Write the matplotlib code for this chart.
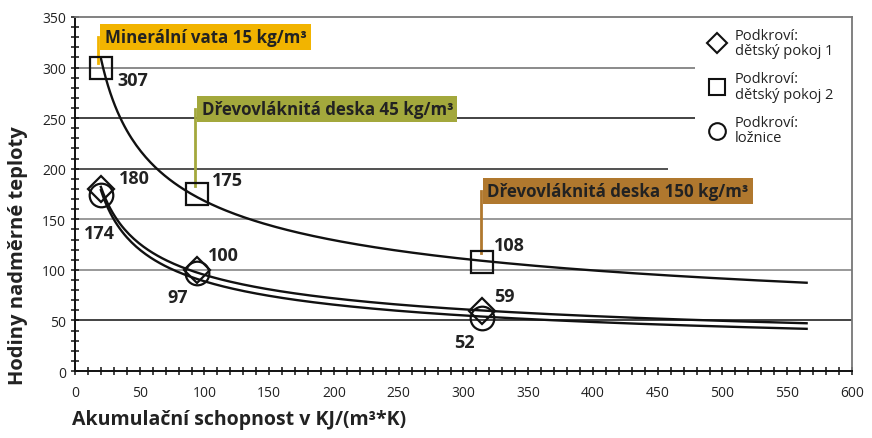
import numpy as np
import matplotlib
matplotlib.use('Agg')
import matplotlib.pyplot as plt
from matplotlib.lines import Line2D

plt.rcParams['font.family'] = ['Open Sans', 'DejaVu Sans']

# data
akumulace = [20, 94, 314]
pokoj1 = [180, 100, 59]          # diamant
pokoj2 = [307, 175, 108]         # ctverec
loznice = [174, 97, 52]          # kruh
pokoj2_znacka = [300, 175, 108]  # ctverec je v grafu nakreslen na 300
konec_krivky = 565

materialy = ['Minerální vata 15 kg/m³', 'Dřevovláknitá deska 45 kg/m³', 'Dřevovláknitá deska 150 kg/m³']
barvy_materialu = ['#F2B400', '#A3A83C', '#B0782E']

fig = plt.figure(figsize=(8.72, 4.39), dpi=100)
ax = fig.add_axes([0.086, 0.1526, 0.891, 0.8064])
ax.set_xlim(0, 600)
ax.set_ylim(0, 350)

# mrizka - nektere cary nejdou pres cely graf
mrizka = [50, 100, 150, 200, 250, 300]
mrizka_konec = [600, 600, 600, 458, 479, 479]
mrizka_barva = ['#222222', '#888888', '#888888', '#333333', '#222222', '#777777']
for y, xe, c in zip(mrizka, mrizka_konec, mrizka_barva):
    ax.hlines(y, 0, xe, color=c, lw=1.2, zorder=1)

# mocninne spojnice trendu
def trend(x, y):
    b, a = np.polyfit(np.log(x), np.log(y), 1)
    xx = np.linspace(x[0], konec_krivky, 300)
    return xx, np.exp(a) * xx ** b

for s in [pokoj1, pokoj2, loznice]:
    xx, yy = trend(akumulace, s)
    ax.plot(xx, yy, color='#111111', lw=1.7, zorder=2)

ax.plot(akumulace, pokoj1, ls='none', marker='D', ms=13, mfc='none', mec='#111111', mew=1.6, zorder=4)
ax.plot(akumulace, pokoj2_znacka, ls='none', marker='s', ms=15.5, mfc='none', mec='#111111', mew=1.6, zorder=4)
ax.plot(akumulace, loznice, ls='none', marker='o', ms=17, mfc='none', mec='#111111', mew=1.6, zorder=4)

# popisky hodnot (posun v bodech)
def popis(xs, ys, vals, offs, has):
    for x, y, v, o, h in zip(xs, ys, vals, offs, has):
        ax.annotate(str(v), (x, y), xytext=o, textcoords='offset points', ha=h, va='center',
                    fontsize=13, fontweight='bold', color='#222222')

popis(akumulace, pokoj2_znacka, pokoj2, [(12, -9), (11, 10), (9, 12)], ['left'] * 3)
popis(akumulace, pokoj1, pokoj1, [(13, 8), (8, 11), (9, 11)], ['left'] * 3)
popis(akumulace, loznice, loznice, [(-1, -27), (-6, -17), (-5, -17)], ['center', 'right', 'right'])

# stitky materialu s nozickou
stitky_x = [17.8, 92.7, 313.5]
stitky_y = [330, 259, 178]
nozicka = [(305, 330), (183, 259), (117, 178)]
for i in range(3):
    ax.plot([stitky_x[i], stitky_x[i]], nozicka[i], color=barvy_materialu[i], lw=2, zorder=3)
    ax.text(stitky_x[i] + 5, stitky_y[i], materialy[i], fontsize=12.2, fontweight='bold', color='#222222',
            ha='left', va='center', zorder=5,
            bbox=dict(boxstyle='square,pad=0.25', fc=barvy_materialu[i], ec='none'))

# legenda
h = [Line2D([], [], ls='none', marker='D', ms=10, mfc='none', mec='#111111', mew=1.5),
     Line2D([], [], ls='none', marker='s', ms=11, mfc='none', mec='#111111', mew=1.5),
     Line2D([], [], ls='none', marker='o', ms=12, mfc='none', mec='#111111', mew=1.5)]
lab = ['Podkroví:\ndětský pokoj 1', 'Podkroví:\ndětský pokoj 2', 'Podkroví:\nložnice']
leg = ax.legend(h, lab, loc='upper left', bbox_to_anchor=(0.804, 0.995), frameon=False, fontsize=10.5,
                handlelength=1.2, handletextpad=0.6, labelspacing=0.9, borderaxespad=0.2)
for t in leg.get_texts():
    t.set_linespacing(1.05)
    t.set_color('#222222')

ax.set_xticks(np.arange(0, 601, 50))
ax.set_yticks(np.arange(0, 351, 50))
ax.set_xticks(np.arange(0, 601, 10), minor=True)
ax.set_yticks(np.arange(0, 351, 10), minor=True)
ax.tick_params(which='both', direction='inout', length=6, width=1.1, color='#111111',
               labelsize=10, labelcolor='#222222')
ax.tick_params(axis='x', pad=7)
for s in ['left', 'bottom']:
    ax.spines[s].set_color('#111111')
    ax.spines[s].set_linewidth(1.4)
for s in ['top', 'right']:
    ax.spines[s].set_color('#777777')
    ax.spines[s].set_linewidth(1.3)

fig.text(18 / 872, 1 - 256 / 439, 'Hodiny nadměrné teploty', rotation=90, ha='center', va='center',
         fontsize=14.5, fontweight='bold', color='#222222')
fig.text(72 / 872, 1 - 420 / 439, 'Akumulační schopnost v KJ/(m³*K)', ha='left', va='center',
         fontsize=14, fontweight='bold', color='#222222')

fig.savefig('out.png', dpi=100)
